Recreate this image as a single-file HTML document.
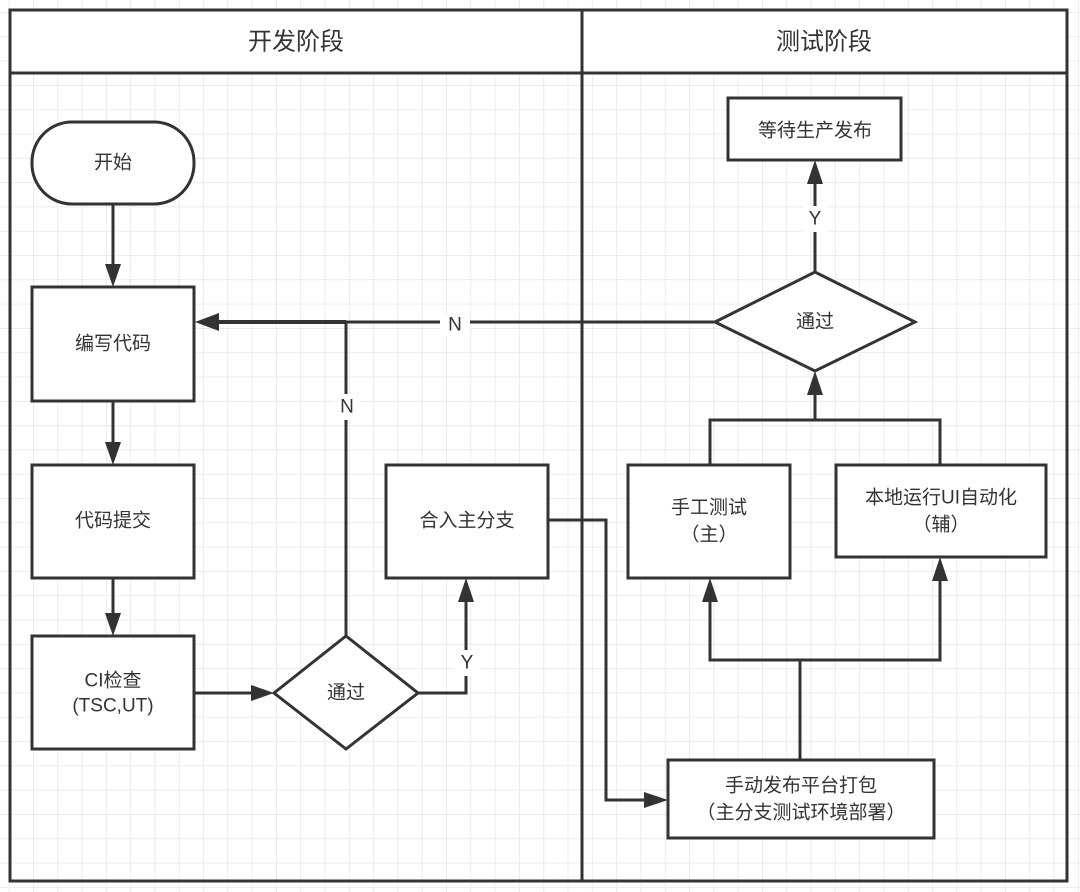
<!DOCTYPE html>
<html><head><meta charset="utf-8"><style>
html,body{margin:0;padding:0;background:#fff}
svg{display:block}
text{font-family:"Liberation Sans","Noto Sans CJK SC",sans-serif;fill:#333;font-size:19px;text-anchor:middle;dominant-baseline:central}
</style></head><body>
<svg width="1080" height="892" viewBox="0 0 1080 892" xmlns="http://www.w3.org/2000/svg">
<defs>
<pattern id="g" x="8.7" y="12.1" width="24.3" height="24.3" patternUnits="userSpaceOnUse">
<path d="M0 0H24.3M0 0V24.3" stroke="#e6e6e6" stroke-width="1.5" fill="none"/>
</pattern>
</defs>
<rect width="1080" height="892" fill="url(#g)"/>
<g stroke="#333" stroke-width="3" fill="#fff">
<rect x="10" y="10" width="1057" height="871" fill="none"/>
<rect x="10" y="10" width="1057" height="63"/>
<line x1="582" y1="10" x2="582" y2="881"/>
<rect x="32" y="122" width="162" height="82" rx="40"/>
<rect x="32" y="287" width="162" height="114"/>
<rect x="32" y="465" width="162" height="113"/>
<rect x="32" y="636" width="162" height="113"/>
<polygon points="274,693 346,636 418,693 346,749"/>
<rect x="386" y="465" width="162" height="113"/>
<rect x="668" y="760" width="266" height="78"/>
<rect x="628" y="465" width="162" height="113"/>
<rect x="836" y="465" width="210" height="92"/>
<polygon points="715,322 815,272 915,322 815,371"/>
<rect x="728" y="98" width="173" height="62"/>
</g>
<g stroke="#333" stroke-width="3" fill="none">
<line x1="113" y1="204" x2="113" y2="268"/>
<line x1="113" y1="401" x2="113" y2="446"/>
<line x1="113" y1="578" x2="113" y2="617"/>
<line x1="194" y1="693" x2="255" y2="693"/>
<polyline points="418,693 466,693 466,598"/>
<line x1="346" y1="636" x2="346" y2="322"/>
<line x1="346" y1="322" x2="215" y2="322" stroke-width="4"/>
<line x1="715" y1="322" x2="346" y2="322"/>
<polyline points="548,520 606,520 606,800 648,800"/>
<polyline points="800,760 800,660 710,660 710,598"/>
<polyline points="800,660 940,660 940,577"/>
<polyline points="710,465 710,420 940,420 940,465"/>
<line x1="815" y1="420" x2="815" y2="391"/>
<line x1="815" y1="272" x2="815" y2="180"/>
</g>
<g fill="#333">
<polygon points="105,264 121,264 113,287"/>
<polygon points="105,442 121,442 113,465"/>
<polygon points="105,613 121,613 113,636"/>
<polygon points="251,685 251,701 274,693"/>
<polygon points="458,602 474,602 466,578"/>
<polygon points="219,313 219,331 195,322"/>
<polygon points="644,792 644,808 668,800"/>
<polygon points="702,602 718,602 710,578"/>
<polygon points="932,581 948,581 940,557"/>
<polygon points="807,395 823,395 815,371"/>
<polygon points="807,184 823,184 815,160"/>
</g>
<g fill="#fff">
<rect x="440" y="314" width="30" height="22"/>
<rect x="334" y="394" width="26" height="26"/>
<rect x="454" y="650" width="26" height="26"/>
<rect x="803" y="206" width="24" height="26"/>
</g>
<text x="296" y="42" style="font-size:24px">开发阶段</text>
<text x="824" y="42" style="font-size:24px">测试阶段</text>
<text x="113" y="163">开始</text>
<text x="113" y="344">编写代码</text>
<text x="113" y="521">代码提交</text>
<text x="113" y="681">CI检查</text>
<text x="113" y="706">(TSC,UT)</text>
<text x="346" y="693">通过</text>
<text x="467" y="521">合入主分支</text>
<text x="801" y="786">手动发布平台打包</text>
<text x="801" y="813">（主分支测试环境部署）</text>
<text x="709" y="508">手工测试</text>
<text x="709" y="535">（主）</text>
<text x="941" y="498">本地运行UI自动化</text>
<text x="941" y="525">（辅）</text>
<text x="815" y="322">通过</text>
<text x="815" y="131">等待生产发布</text>
<text x="455" y="325">N</text>
<text x="347" y="407">N</text>
<text x="467" y="663">Y</text>
<text x="815" y="219">Y</text>
</svg>
</body></html>
